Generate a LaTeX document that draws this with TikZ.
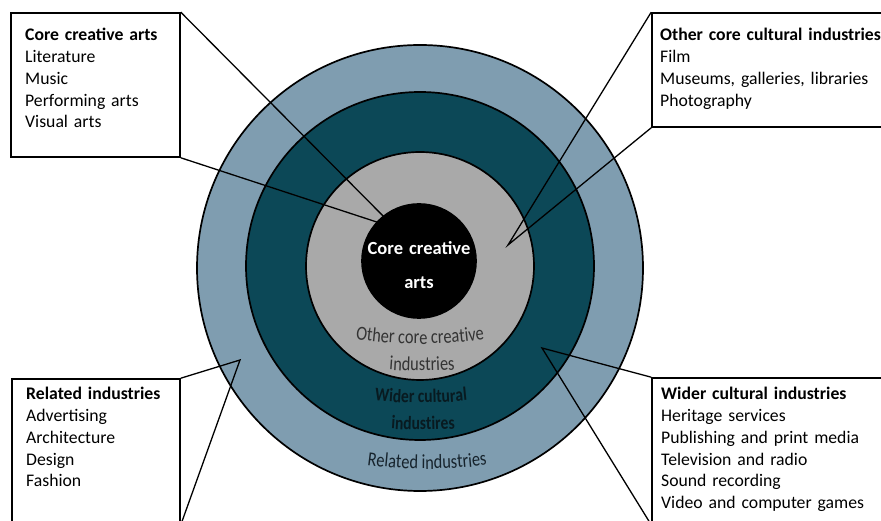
\documentclass[tikz,border=0pt]{standalone}
\usepackage{fontspec}
\setmainfont{Carlito}
\newfontfamily\ringfamily[FakeStretch=0.82]{Carlito}
\usepackage{xcolor}
\usepackage{tikz}
\usetikzlibrary{decorations.text}

\definecolor{outerblue}{HTML}{7F9DB0}
\definecolor{darkteal}{HTML}{0C4857}
\definecolor{midgrey}{HTML}{A9A9A9}
\definecolor{greytext}{HTML}{333333}
\definecolor{tealtext}{HTML}{081A20}
\definecolor{bluetext}{HTML}{16232C}

\newcommand{\ringfont}{\ringfamily\fontsize{20}{22}\selectfont}
\newcommand{\widerfont}{\ringfamily\bfseries\fontsize{19}{22}\selectfont}

\begin{document}
\begin{tikzpicture}[x=1pt, y=1pt]
            \tikzset{
                ring/.style={draw, shape = circle, line width=1.7pt, inner sep=0pt},
                info_box/.style={draw, shape = rectangle, line width=1.6pt, fill=white, inner sep=0pt},
                info_text/.style={anchor=base west, inner sep=0pt, text width=260pt, align=left,
                    font=\fontsize{17.7}{21.7}\selectfont},
                core_label/.style={anchor=base, inner sep=0pt, text width=110pt, align=center,
                    text=white, font=\bfseries\fontsize{18.5}{34}\selectfont},
                callout/.style={draw, line width=1.3pt}
            }
            \useasboundingbox (0,0) rectangle (881,521);
            \clip (0,0) rectangle (881,521);

            % rings
            \node[ring, fill=outerblue, minimum size=446pt] (related) at (420,253) {};
            \node[ring, fill=darkteal, minimum size=348pt] (wider) at (420,255) {};
            \node[ring, fill=midgrey, minimum size=228pt] (othercore) at (420,255) {};
            \node[ring, fill=black, minimum size=114pt] (core) at (419,260) {};

            \node[core_label] (core_lbl) at (419,266) {Core creative\\arts};
            \path[decorate, decoration={text along path, text align=center, text color=greytext,
                text={|\ringfont|Other core creative}}] (420,627) ++(255:450) arc[start angle=255, end angle=285, radius=450];
            \path[decorate, decoration={text along path, text align=center, text color=greytext,
                text={|\ringfont|industries}}] (422,600) ++(255:450) arc[start angle=255, end angle=285, radius=450];
            \path[decorate, decoration={text along path, text align=center, text color=tealtext,
                text={|\widerfont|Wider cultural}}] (421,568) ++(255:450) arc[start angle=255, end angle=285, radius=450];
            \path[decorate, decoration={text along path, text align=center, text color=tealtext,
                text={|\widerfont|industires}}] (423,541) ++(255:450) arc[start angle=255, end angle=285, radius=450];
            \path[decorate, decoration={text along path, text align=center, text color=bluetext,
                text={|\ringfont|Related industries}}] (427,502) ++(255:450) arc[start angle=255, end angle=285, radius=450];

            % boxes
            \node[info_box, minimum width=169pt, minimum height=144pt] (tl_box) at (95.5,436) {};
            \node[info_box, minimum width=243pt, minimum height=114pt] (tr_box) at (773.5,451) {};
            \node[info_box, minimum width=168pt, minimum height=145pt] (bl_box) at (96,69.5) {};
            \node[info_box, minimum width=243pt, minimum height=146pt] (br_box) at (773.5,70) {};

            \node[info_text] (tl_text) at (25,480) {\textbf{Core creative arts}\\Literature\\Music\\Performing arts\\Visual arts};
            \node[info_text] (tr_text) at (660,480) {\textbf{Other core cultural industries}\\Film\\Museums, galleries, libraries\\Photography};
            \node[info_text] (bl_text) at (26,121) {\textbf{Related industries}\\Advertising\\Architecture\\Design\\Fashion};
            \node[info_text] (br_text) at (661,121) {\textbf{Wider cultural industries}\\Heritage services\\Publishing and print media\\Television and radio\\Sound recording\\Video and computer games};

            % callouts
            \coordinate (tl_tip) at (395,293);
            \coordinate (tr_tip) at (508,276);
            \coordinate (bl_tip) at (240,161);
            \coordinate (br_tip) at (542,173);
            \path[callout] (tl_box.north east) -- (tl_tip) -- (tl_box.south east);
            \path[callout] (tr_box.north west) -- (tr_tip) -- (tr_box.south west);
            \path[callout] (bl_box.north east) -- (bl_tip) -- (bl_box.south east);
            \path[callout] (br_box.north west) -- (br_tip) -- (br_box.south west);
        \end{tikzpicture}
\end{document}
